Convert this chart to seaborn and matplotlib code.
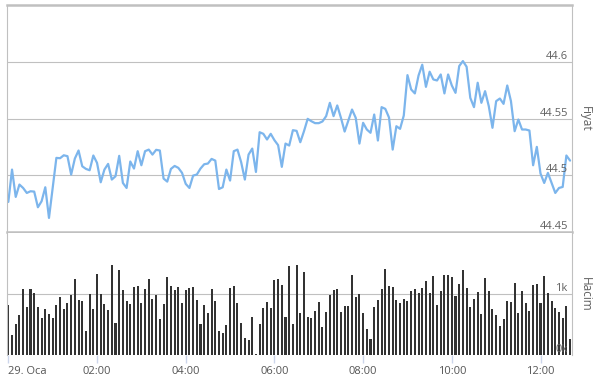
import numpy as np
import pandas as pd
import matplotlib
matplotlib.use("Agg")
import matplotlib.pyplot as plt
import seaborn as sns

# ---- data (5-minute intervals starting 29 Oca 00:00) ----
price = [
    44.4765, 44.505, 44.4809, 44.4918, 44.4888, 44.4844, 44.4859, 44.4856, 44.4718, 44.4771,
    44.4894, 44.4624, 44.4888, 44.5153, 44.515, 44.5176, 44.5168, 44.5006, 44.5147, 44.5218,
    44.5079, 44.5056, 44.5044, 44.5174, 44.5109, 44.4938, 44.505, 44.51, 44.4962, 44.4991,
    44.5171, 44.4932, 44.4888, 44.5121, 44.5059, 44.5212, 44.5088, 44.5212, 44.5226, 44.5182,
    44.5224, 44.5218, 44.4971, 44.4944, 44.5056, 44.5082, 44.5065, 44.5021, 44.4924, 44.4888,
    44.4997, 44.5006, 44.5059, 44.5097, 44.5103, 44.5144, 44.5129, 44.4879, 44.4894, 44.505,
    44.4953, 44.5212, 44.5226, 44.5115, 44.4962, 44.5182, 44.5235, 44.5029, 44.5379, 44.5365,
    44.5315, 44.5365, 44.5309, 44.5265, 44.5074, 44.5279, 44.5262, 44.5397, 44.5391, 44.5291,
    44.5388, 44.5497, 44.5476, 44.5459, 44.5459, 44.5474, 44.5521, 44.5638, 44.5521, 44.5615,
    44.5506, 44.5385, 44.5482, 44.5579, 44.5506, 44.5279, 44.5462, 44.5403, 44.5374, 44.5535,
    44.5306, 44.56, 44.5585, 44.5509, 44.5226, 44.5432, 44.5409, 44.5526, 44.5882, 44.5756,
    44.5721, 44.5879, 44.5974, 44.5779, 44.5912, 44.5844, 44.5835, 44.5888, 44.5721, 44.5888,
    44.5791, 44.5726, 44.5962, 44.6006, 44.5956, 44.5682, 44.56, 44.5815, 44.5638, 44.5741,
    44.5609, 44.5418, 44.5653, 44.5676, 44.5629, 44.5791, 44.5653, 44.5388, 44.5491, 44.5403,
    44.5403, 44.5394, 44.5088, 44.525, 44.5015, 44.4932, 44.5021, 44.4932, 44.4844, 44.4888,
    44.4897, 44.5174, 44.5129,
]
volume = [
    819, 324, 505, 654, 1082, 786, 1082, 1022, 786, 604,
    753, 670, 604, 819, 951, 753, 852, 984, 1247, 901,
    885, 396, 1000, 753, 1330, 1000, 835, 736, 1478, 522,
    1396, 1066, 885, 835, 1115, 1132, 852, 1082, 1247, 918,
    984, 588, 835, 1280, 1132, 1066, 1115, 852, 1066, 1099,
    1115, 901, 505, 819, 687, 1082, 885, 390, 357, 489,
    1099, 1132, 852, 522, 275, 242, 621, 16, 505, 769,
    868, 769, 1231, 1247, 1148, 621, 1462, 505, 1478, 687,
    1363, 621, 604, 720, 868, 456, 703, 984, 1066, 1082,
    703, 802, 802, 1313, 951, 1000, 687, 423, 258, 786,
    901, 1082, 1412, 1132, 1115, 901, 852, 918, 885, 1049,
    1082, 1016, 1099, 1214, 1016, 1297, 819, 1049, 1313, 1313,
    1280, 967, 1165, 1396, 1099, 786, 918, 1033, 670, 1264,
    1049, 753, 654, 473, 588, 885, 868, 1181, 687, 1049,
    852, 720, 1148, 1165, 852, 1297, 1016, 885, 769, 703,
    604, 802, 258,
]
x_ticks = [0, 2, 4, 6, 8, 10, 12]
x_tick_labels = ["29. Oca", "02:00", "04:00", "06:00", "08:00", "10:00", "12:00"]
price_ticks = [44.45, 44.5, 44.55, 44.6]
price_tick_labels = ["44.45", "44.5", "44.55", "44.6"]
vol_ticks = [0, 1000]
vol_tick_labels = ["0k", "1k"]

hours = np.arange(len(price)) * 5 / 60.0
df = pd.DataFrame({"hour": hours, "price": price, "volume": volume})

# ---- styling ----
sns.set_theme(style="white")
plt.rcParams["font.family"] = ["Open Sans", "DejaVu Sans"]

W, H = 595, 379
fig = plt.figure(figsize=(W / 100, H / 100), dpi=100)
fig.patch.set_facecolor("white")

L, R = 7, 572
ax_p = fig.add_axes([L / W, 1 - 232 / H, (R - L) / W, (232 - 5) / H])
ax_v = fig.add_axes([L / W, 1 - 355 / H, (R - L) / W, (355 - 233) / H])

grid_c = "#c0c0c0"
text_c = "#606060"
xmin, xmax = -0.03, 12.71

# price line
sns.lineplot(data=df, x="hour", y="price", ax=ax_p, color="#7cb5ec", linewidth=1.6, zorder=2)
ax_p.set_xlim(xmin, xmax)
ax_p.set_ylim(44.45, 44.65)

# volume bars
sns.barplot(data=df, x="hour", y="volume", ax=ax_v, native_scale=True, width=0.55,
            color="#333333", saturation=1, errorbar=None, linewidth=0)
ax_v.set_xlim(xmin, xmax)
ax_v.set_ylim(0, 2000)

for ax, ticks, labels in ((ax_p, price_ticks, price_tick_labels), (ax_v, vol_ticks, vol_tick_labels)):
    ax.set_xlabel("")
    ax.set_ylabel("")
    ax.yaxis.tick_right()
    ax.set_yticks(ticks)
    ax.set_yticklabels(labels)
    ax.tick_params(axis="y", length=0, pad=-3, labelsize=8, labelcolor=text_c)
    for lbl in ax.get_yticklabels():
        lbl.set_ha("right")
        lbl.set_va("bottom")
    ax.grid(False)
    ax.set_axisbelow(False)
    for t in ticks[1:]:
        ax.axhline(t, color=grid_c, linewidth=0.8, zorder=0.5)
    for s in ax.spines.values():
        s.set_color(grid_c)
        s.set_linewidth(0.8)

ax_p.set_xticks([])
ax_p.spines["top"].set_linewidth(1.8)
ax_p.spines["bottom"].set_linewidth(1.8)
ax_v.spines["top"].set_visible(False)
ax_v.spines["bottom"].set_visible(False)

ax_v.set_xticks(x_ticks)
ax_v.set_xticklabels(x_tick_labels)
ax_v.tick_params(axis="x", bottom=True, length=6, width=1, color="#ccd6eb",
                 labelsize=8, labelcolor="#555555", pad=2)
ax_v.get_xticklabels()[0].set_ha("left")

# axis titles
ax_p.text(1 + 13 / (R - L), 0.5, "Fiyat", transform=ax_p.transAxes, rotation=270,
          ha="center", va="center", fontsize=8.5, color=text_c)
ax_v.text(1 + 13 / (R - L), 0.5, "Hacim", transform=ax_v.transAxes, rotation=270,
          ha="center", va="center", fontsize=8.5, color=text_c)

fig.savefig("out.png", dpi=100, facecolor="white")
